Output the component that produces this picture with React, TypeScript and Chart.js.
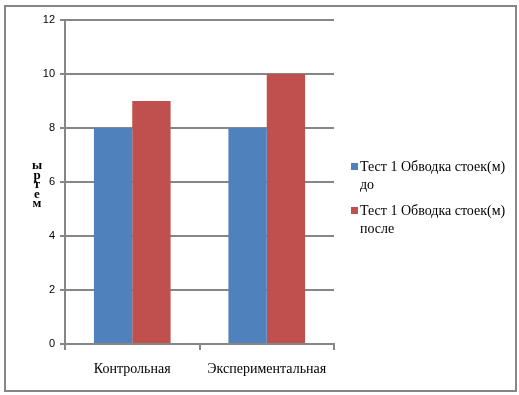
import React, { useEffect, useRef } from "react";
import { Chart, registerables } from "chart.js";

Chart.register(...registerables);

const categories = ["Контрольная", "Экспериментальная"];
const seriesNames = [
  ["Тест 1 Обводка стоек(м)", "до"],
  ["Тест 1 Обводка стоек(м)", "после"],
];
const beforeValues = [8, 8];
const afterValues = [9, 10];
const colors = ["#4F81BD", "#C0504D"];
const yAxisLetters = ["ы", "р", "т", "е", "м"];
const yMax = 12;
const yStep = 2;

const GRID = "#868686";

const overlayPlugin = {
  id: "overlay",
  afterDraw(chart: any) {
    const ctx = chart.ctx;
    ctx.save();
    // outer border
    ctx.strokeStyle = GRID;
    ctx.lineWidth = 2;
    ctx.strokeRect(5, 6, 511, 385);
    // y axis title letters
    ctx.fillStyle = "#000";
    ctx.font = "bold 13px 'Liberation Serif'";
    ctx.textAlign = "center";
    ctx.textBaseline = "middle";
    yAxisLetters.forEach((l, i) => {
      ctx.fillText(l, 37, 166 + i * 9.5);
    });
    // legend
    ctx.textAlign = "left";
    ctx.font = "14px 'Liberation Serif'";
    const tops = [167, 211];
    seriesNames.forEach((lines, i) => {
      ctx.fillStyle = colors[i];
      ctx.fillRect(351, tops[i] - 4, 7, 7);
      ctx.fillStyle = "#000";
      lines.forEach((t, j) => {
        ctx.fillText(t, 360, tops[i] + j * 18);
      });
    });
    ctx.restore();
  },
};

export default function App() {
  const ref = useRef<HTMLCanvasElement>(null);
  useEffect(() => {
    const chart = new Chart(ref.current!, {
      type: "bar",
      data: {
        labels: categories,
        datasets: [
          { label: seriesNames[0].join(" "), data: beforeValues, backgroundColor: colors[0] },
          { label: seriesNames[1].join(" "), data: afterValues, backgroundColor: colors[1] },
        ],
      },
      options: {
        animation: false,
        responsive: false,
        layout: { padding: { left: 0, top: 20, right: 185, bottom: 0 } },
        plugins: { legend: { display: false }, tooltip: { enabled: false } },
        datasets: { bar: { categoryPercentage: 0.57, barPercentage: 1.0 } },
        scales: {
          x: {
            afterFit(scale: any) {
              scale.height = 51;
            },
            grid: {
              offset: true,
              drawOnChartArea: false,
              color: GRID,
              lineWidth: 2,
              tickLength: 6,
            },
            border: { color: GRID, width: 2 },
            ticks: {
              color: "#000",
              font: { family: "'Liberation Serif'", size: 14 },
              padding: 11,
            },
          },
          y: {
            min: 0,
            max: yMax,
            afterFit(scale: any) {
              scale.width = 65;
            },
            grid: { color: GRID, lineWidth: 2, tickLength: 5 },
            border: { color: GRID, width: 2 },
            ticks: {
              stepSize: yStep,
              color: "#000",
              font: { family: "'Liberation Sans'", size: 11 },
              padding: 5,
            },
          },
        },
      },
      plugins: [overlayPlugin],
    });
    return () => chart.destroy();
  }, []);
  return (
    <div style={{ position: "absolute", left: 0, top: 0, width: 519, height: 395, background: "#fff" }}>
      <canvas ref={ref} width={519} height={395} />
    </div>
  );
}
